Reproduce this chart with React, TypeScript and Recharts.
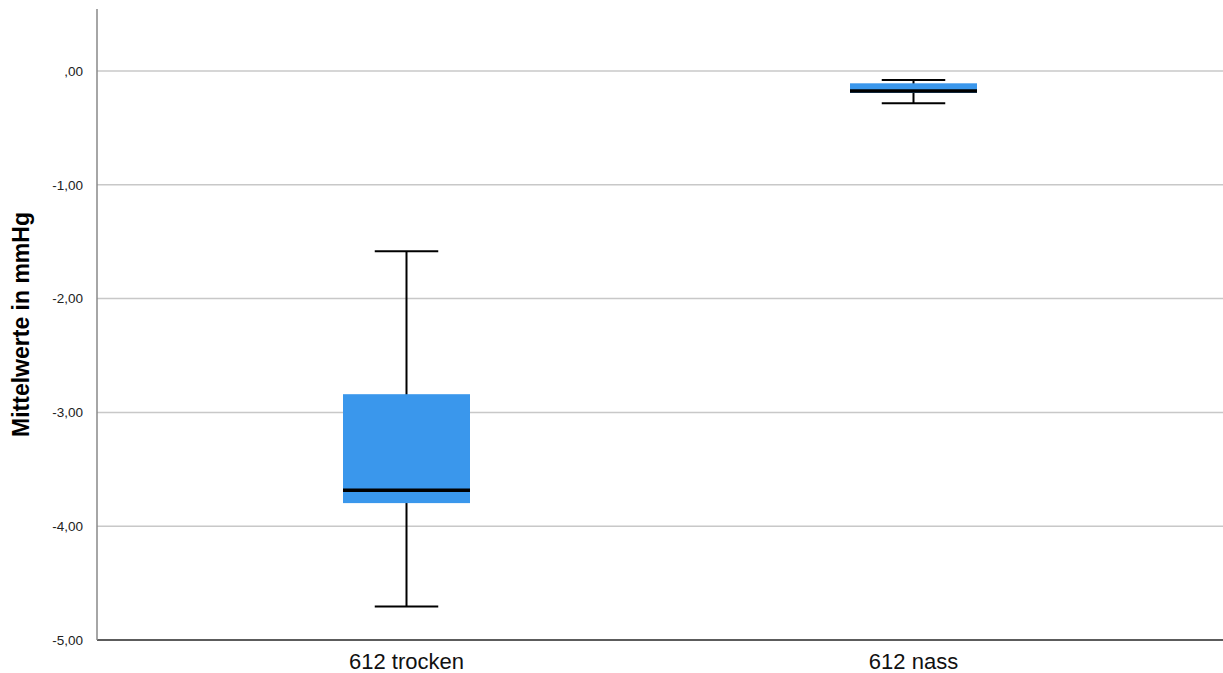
import React from 'react';
import { ComposedChart, Bar, XAxis, YAxis, CartesianGrid } from 'recharts';

// Box plot values (mmHg)
const categories = ['612 trocken', '612 nass'];
const whiskerLow = [-4.705, -0.284];
const quartile1 = [-3.797, -0.193];
const medians = [-3.685, -0.176];
const quartile3 = [-2.84, -0.108];
const whiskerHigh = [-1.583, -0.079];
const yTicks = [-5, -4, -3, -2, -1, 0];

const data = categories.map((name, i) => ({
  name,
  range: [whiskerLow[i], whiskerHigh[i]],
  min: whiskerLow[i],
  q1: quartile1[i],
  median: medians[i],
  q3: quartile3[i],
  max: whiskerHigh[i],
}));

const BOX_FILL = '#3a97ec';
const FONT = '"Liberation Sans", Arial, sans-serif';

const fmt = (v: number) => {
  const s = Math.abs(v).toFixed(2).replace('.', ',');
  const body = s.startsWith('0,') ? s.slice(1) : s;
  return (v < 0 ? '-' : '') + body;
};

// Draws whiskers, box and median inside the bar's [min, max] pixel range
const BoxShape = (props: any) => {
  const { x, y, width, height, payload } = props;
  const top = Math.min(y, y + height);
  const h = Math.abs(height);
  const lo = payload.min;
  const hi = payload.max;
  const py = (v: number) => top + ((hi - v) / (hi - lo)) * h;
  const cx = x + width / 2;
  const cap = width / 4;
  return (
    <g>
      <line x1={cx} x2={cx} y1={py(hi)} y2={py(lo)} stroke="#000" strokeWidth={2} />
      <line x1={cx - cap} x2={cx + cap} y1={py(hi)} y2={py(hi)} stroke="#000" strokeWidth={2} />
      <line x1={cx - cap} x2={cx + cap} y1={py(lo)} y2={py(lo)} stroke="#000" strokeWidth={2} />
      <rect x={x} y={py(payload.q3)} width={width} height={py(payload.q1) - py(payload.q3)} fill={BOX_FILL} />
      <line x1={x} x2={x + width} y1={py(payload.median)} y2={py(payload.median)} stroke="#000" strokeWidth={3.5} />
    </g>
  );
};

export default function App() {
  return (
    <div style={{ position: 'absolute', left: 0, top: 0, background: '#fff', fontFamily: FONT }}>
      <ComposedChart width={1223} height={673} data={data} margin={{ top: 9, right: 0, bottom: 0, left: 0 }}>
        <CartesianGrid horizontal vertical={false} syncWithTicks stroke="#c8c8c8" strokeWidth={1.5} />
        <XAxis
          dataKey="name"
          height={33}
          padding={{ left: 56, right: 56 }}
          tickLine={false}
          tickSize={6}
          tickMargin={7}
          axisLine={{ stroke: '#333', strokeWidth: 1.5 }}
          tick={{ fill: '#111', fontSize: 22, fontFamily: FONT }}
        />
        <YAxis
          width={97}
          domain={[-5, 0.545]}
          ticks={yTicks}
          allowDataOverflow
          tickFormatter={fmt}
          tickLine={false}
          tickSize={6}
          tickMargin={8}
          axisLine={{ stroke: '#888', strokeWidth: 1.5 }}
          tick={{ fill: '#222', fontSize: 13.5, fontFamily: FONT }}
          label={{
            content: (p: any) => {
              const vb = p.viewBox || { y: 9, height: 631 };
              const cy = vb.y + vb.height / 2;
              return (
                <text
                  x={21}
                  y={cy}
                  transform={`rotate(-90, 21, ${cy})`}
                  textAnchor="middle"
                  dominantBaseline="central"
                  fontSize={23}
                  fontWeight="bold"
                  fill="#000"
                  fontFamily={FONT}
                >
                  Mittelwerte in mmHg
                </text>
              );
            },
          }}
        />
        <Bar dataKey="range" barSize={127} shape={<BoxShape />} isAnimationActive={false} />
      </ComposedChart>
    </div>
  );
}
